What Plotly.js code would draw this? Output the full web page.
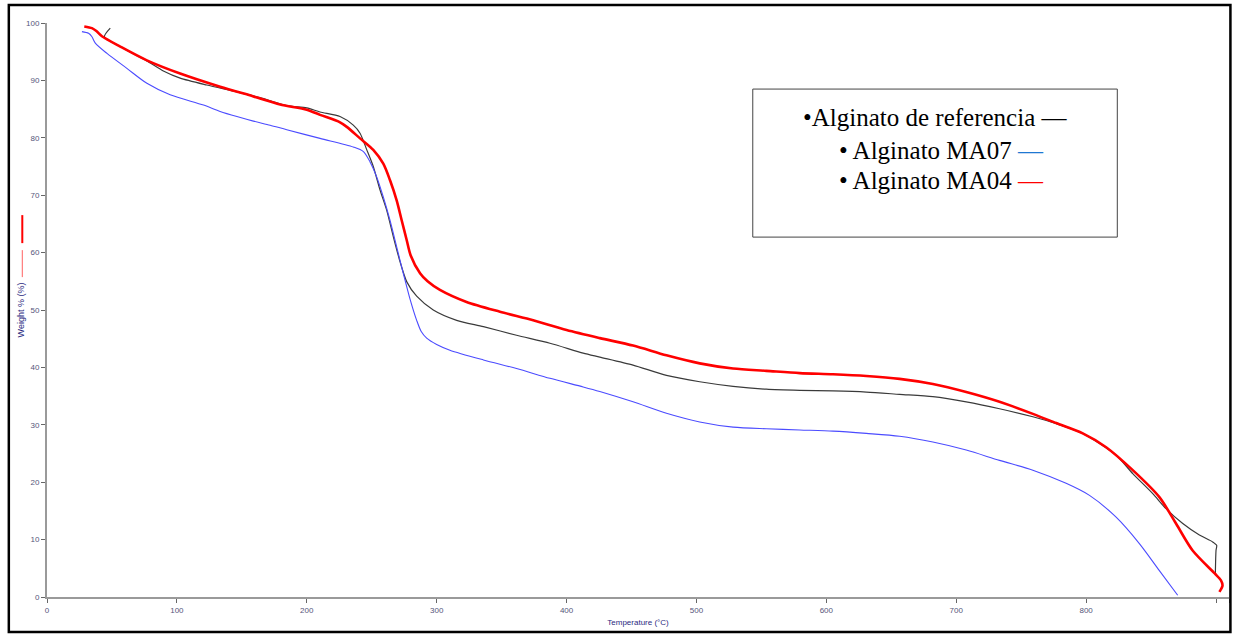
<!DOCTYPE html>
<html>
<head>
<meta charset="utf-8">
<script src="https://cdn.plot.ly/plotly-3.0.1.min.js"></script>
<style>
html,body{margin:0;padding:0;background:#fff;}
#chart{width:1235px;height:635px;}
</style>
</head>
<body>
<div id="chart"></div>
<script>
// Temperature (°C) and Weight % readings for each sample
const refTemp = [48.7,44.2,56.4,70,76.9,90,102.5,123,146.2,164,184.6,200,210.2,225.6,235.8,241,246.2,251.2,256.4,261.5,266.7,271.8,277,284.6,297.4,315.4,336,361.5,387.2,412.8,425.6,451.2,476.9,502.5,528.2,553.8,579.5,605.1,630.8,656.4,682,707.7,733.3,759,777,797.4,823.1,835.9,851.3,861.5,874.4,887.2,897.4,900.5,900,899.5];
const refWeight = [99.1,97.6,95.9,94.2,93.4,91.6,90.4,89.2,88.0,87.0,85.6,85.2,84.5,83.7,82.2,80.8,77.9,75.0,70.9,67.4,62.7,58.4,54.9,52.4,50.0,48.2,47.1,45.6,44.2,42.5,41.8,40.4,38.6,37.5,36.7,36.2,36.0,35.9,35.7,35.3,34.9,34.0,32.8,31.4,30.2,28.5,24.7,21.5,18.0,15.4,12.8,10.8,9.6,9.0,8.1,4.2];

const ma07Temp = [26.9,32,34.6,37.2,46.2,61.5,76.9,94.8,120.5,133.3,146.2,158.9,171.8,184.6,210.2,235.8,243.6,248.7,253.8,258.9,264.1,269.2,274.3,279.5,284.6,288,292.3,300,310.2,336,361.5,387.2,412.8,425.6,451.2,476.9,502.5,528.2,553.8,579.5,605.1,630.8,656.4,682,707.7,733.3,759,784.6,802.6,823.1,841,856.4,870.5];
const ma07Weight = [98.5,98.2,97.6,96.5,94.7,92.1,89.5,87.5,85.7,84.6,83.7,82.9,82.2,81.4,79.9,78.4,77.6,75.8,73.2,69.7,65.6,61.0,56.4,51.9,48.2,46.3,45.1,44.0,43.0,41.3,39.8,38.1,36.6,35.8,34.0,32.0,30.5,29.6,29.3,29.1,28.9,28.5,28.0,27.0,25.6,23.8,22.1,19.8,17.7,13.9,9.3,4.6,0.3];

const ma04Temp = [28.7,34.6,38,42.3,56.4,76.9,102.5,133.3,158.9,179.5,200,210.2,225.6,230.8,241,251.2,258.9,264.1,269.2,273.1,276.9,280,287.2,293,302.5,323,348.7,374.3,400,425.6,451.2,476.9,502.5,528.2,553.8,579.5,605.1,630.8,656.4,682,707.7,733.3,759,777,797.4,815.4,835.9,856.4,869.2,882,899,903.8,905,902.6];
const ma04Weight = [99.4,99.1,98.6,97.7,95.9,93.5,91.2,88.9,87.2,85.8,84.9,84.0,82.7,81.9,79.9,77.9,75.5,72.6,69.1,65.6,62.2,59.5,56.4,55.0,53.5,51.4,49.7,48.2,46.5,45.1,43.8,42.1,40.7,39.8,39.4,39.0,38.8,38.5,38.0,37.1,35.7,34.0,31.9,30.3,28.5,26.1,22.1,17.4,12.8,8.1,4.1,2.9,2.0,0.9];

const xTickVals = [0,100,200,300,400,500,600,700,800,900,910];
const xTickText = ['0','100','200','300','400','500','600','700','800','','910'];
const yTickVals = [0,10,20,30,40,50,60,70,80,90,100];

const legendLines = [
  '•Alginato de referencia —',
  '• Alginato MA07 <span style="color:#1e78d2">—</span>',
  '• Alginato MA04 <span style="color:#ff0000">—</span>'
];

const traces = [
  {x: refTemp, y: refWeight, mode: 'lines', name: 'Alginato de referencia', line: {color: '#3a3a3a', width: 1.2, shape: 'spline', smoothing: 0.7}},
  {x: ma07Temp, y: ma07Weight, mode: 'lines', name: 'Alginato MA07', line: {color: '#4b4bff', width: 1.1, shape: 'spline', smoothing: 0.8}},
  {x: ma04Temp, y: ma04Weight, mode: 'lines', name: 'Alginato MA04', line: {color: '#ff0000', width: 2.6, shape: 'spline', smoothing: 0.8}}
];

const tickFont = {family: 'Liberation Sans, Arial, sans-serif', size: 8, color: '#55557a'};
const titleFont = {family: 'Liberation Sans, Arial, sans-serif', size: 8, color: '#2a2a80'};
const yTitleFont = {family: 'Liberation Sans, Arial, sans-serif', size: 9, color: '#2a2a80'};

const layout = {
  width: 1235, height: 635,
  margin: {l: 46.7, r: 6, t: 23, b: 38.3, pad: 0},
  paper_bgcolor: '#ffffff', plot_bgcolor: '#ffffff',
  showlegend: false,
  xaxis: {
    range: [0, 910], tickvals: xTickVals, ticktext: xTickText,
    showgrid: false, zeroline: false, showline: true, linecolor: '#9a9a9a', linewidth: 2,
    ticks: 'outside', ticklen: 4, tickcolor: '#666', tickwidth: 1,
    tickfont: tickFont,
    title: {text: 'Temperature (°C)', font: titleFont, standoff: 6}
  },
  yaxis: {
    range: [0, 100], tickvals: yTickVals,
    showgrid: false, zeroline: false, showline: true, linecolor: '#9a9a9a', linewidth: 2,
    ticks: 'outside', ticklen: 4, tickcolor: '#666', tickwidth: 1,
    tickfont: tickFont,
    title: {text: 'Weight % (%)', font: yTitleFont, standoff: 0}
  },
  shapes: [
    {type: 'rect', xref: 'paper', yref: 'paper', x0: -0.0323, x1: 1.0012, y0: -0.0610, y1: 1.0314,
     line: {color: '#000', width: 2.5}, fillcolor: 'rgba(0,0,0,0)'},
    {type: 'rect', xref: 'paper', yref: 'paper', x0: 0.5971, x1: 0.9055, y0: 0.6270, y1: 0.8849,
     line: {color: '#444', width: 1}, fillcolor: '#ffffff', layer: 'above'},
    {type: 'line', xref: 'paper', yref: 'paper', x0: -0.0209, x1: -0.0209, y0: 0.6653, y1: 0.6165,
     line: {color: '#ff0000', width: 2}},
    {type: 'line', xref: 'paper', yref: 'paper', x0: -0.0209, x1: -0.0209, y0: 0.6043, y1: 0.5573,
     line: {color: '#ff6060', width: 1}}
  ],
  annotations: [
    {xref: 'paper', yref: 'paper', x: 0.7510, y: 0.8346, xanchor: 'center', yanchor: 'middle', showarrow: false,
     text: legendLines[0], font: {family: 'Liberation Serif, Times New Roman, serif', size: 25, color: '#000'}},
    {xref: 'paper', yref: 'paper', x: 0.7568, y: 0.7787, xanchor: 'center', yanchor: 'middle', showarrow: false,
     text: legendLines[1], font: {family: 'Liberation Serif, Times New Roman, serif', size: 25, color: '#000'}},
    {xref: 'paper', yref: 'paper', x: 0.7568, y: 0.7264, xanchor: 'center', yanchor: 'middle', showarrow: false,
     text: legendLines[2], font: {family: 'Liberation Serif, Times New Roman, serif', size: 25, color: '#000'}}
  ]
};

Plotly.newPlot('chart', traces, layout, {displayModeBar: false, staticPlot: true});
</script>
</body>
</html>
